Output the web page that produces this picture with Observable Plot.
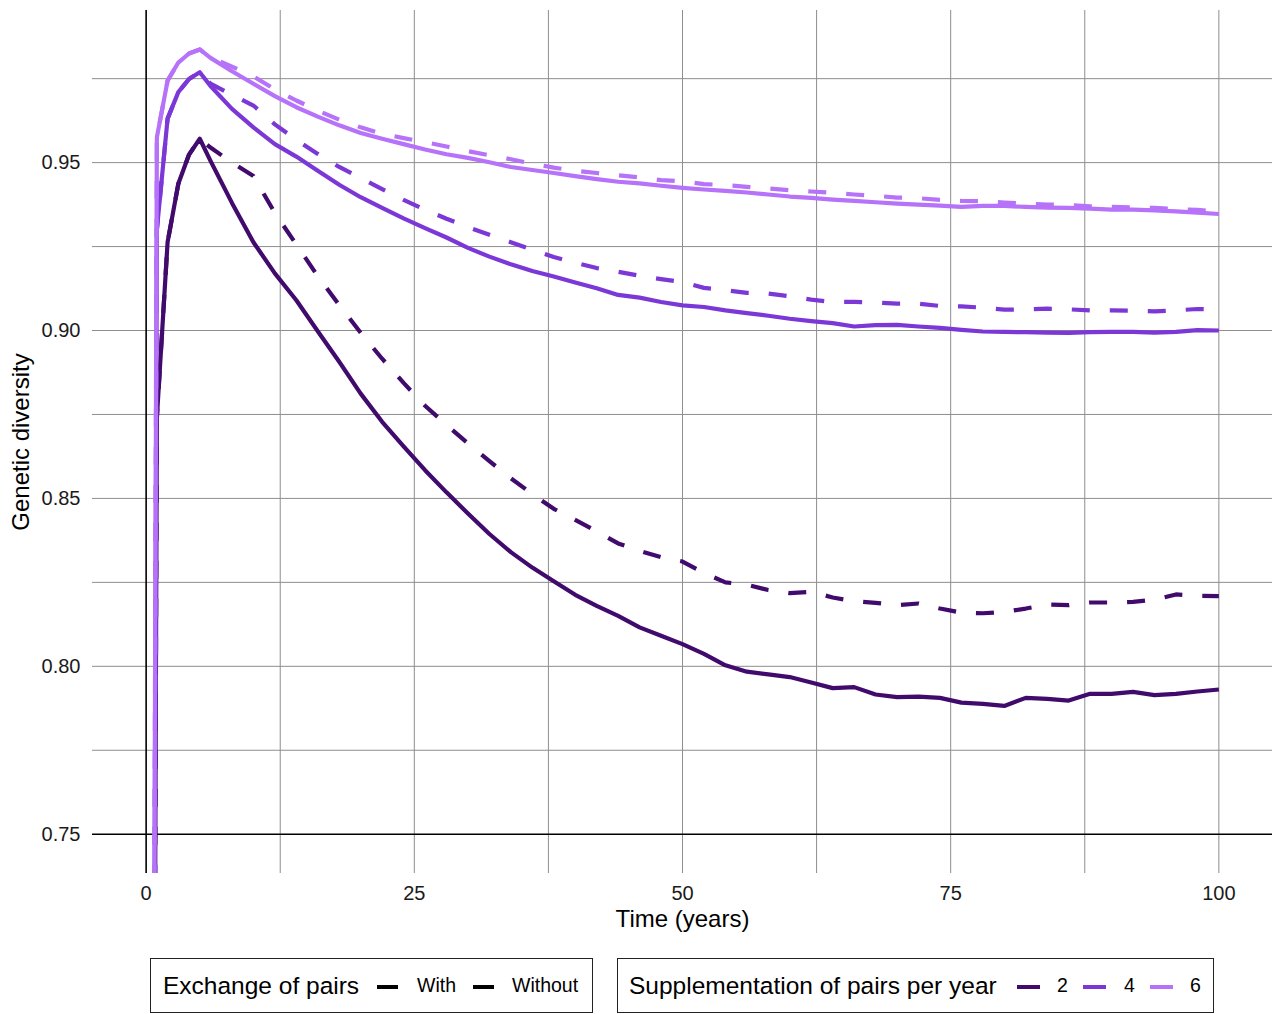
<!DOCTYPE html>
<html>
<head>
<meta charset="utf-8">
<script src="https://cdn.jsdelivr.net/npm/d3@7"></script>
<script src="https://cdn.jsdelivr.net/npm/@observablehq/plot@0.6"></script>
<style>
  body { margin: 0; background: #fff; font-family: "Liberation Sans", Arial, Helvetica, sans-serif; }
  #wrap { position: relative; width: 1275px; height: 1014px; overflow: hidden; background: #fff; }
  #chart { position: absolute; left: 0; top: 0; }
  .box { position: absolute; top: 958px; height: 55px; border: 1px solid #222; box-sizing: border-box; }
  .item { position: absolute; top: 0; bottom: 0; display: flex; align-items: center; white-space: nowrap; color: #000; }
  .ttl { font-size: 24.5px; }
  .lab { font-size: 19.5px; }
  .key { position: absolute; top: 50%; height: 4px; margin-top: -1px; }
</style>
</head>
<body>
<div id="wrap">
  <div id="chart"></div>
  <div id="legend"></div>
</div>
<script>
// ---- data ----
const years = [0,1,2,3,4,5,6,8,10,12,14,16,18,20,22,24,26,28,30,32,34,36,38,40,42,44,46,48,50,52,54,56,58,60,62,64,66,68,70,72,74,76,78,80,82,84,86,88,90,92,94,96,98,100];

const div2With = [0,0.874,0.9263,0.9437,0.9524,0.9571,0.9545,0.950,0.946,0.935,0.9256,0.9162,0.9076,0.8993,0.8916,0.8844,0.8776,0.8719,0.8664,0.8611,0.856,0.8513,0.8469,0.8436,0.8402,0.8366,0.8344,0.8325,0.8312,0.8278,0.825,0.8243,0.8227,0.8218,0.8222,0.8205,0.8194,0.8189,0.8182,0.8187,0.8172,0.816,0.8158,0.8162,0.8172,0.8184,0.8182,0.819,0.819,0.8192,0.8198,0.8214,0.821,0.8209];
const div2Without = [0,0.874,0.9263,0.9437,0.9524,0.9571,0.9505,0.938,0.9263,0.917,0.909,0.8998,0.8907,0.8812,0.8728,0.8655,0.8584,0.8518,0.8455,0.8394,0.834,0.8294,0.8253,0.8213,0.818,0.815,0.8116,0.8091,0.8066,0.8037,0.8003,0.7984,0.7976,0.7968,0.7952,0.7935,0.7938,0.7916,0.7908,0.791,0.7906,0.7892,0.7888,0.7882,0.7906,0.7903,0.7898,0.7918,0.7918,0.7924,0.7914,0.7918,0.7925,0.7931];
const div4With = [0,0.930,0.9631,0.9710,0.9749,0.9769,0.9735,0.9702,0.967,0.9614,0.9568,0.9526,0.9487,0.9454,0.9421,0.9389,0.936,0.9333,0.9308,0.9285,0.9263,0.9241,0.9219,0.9202,0.9186,0.9175,0.9163,0.9153,0.9144,0.9127,0.912,0.9112,0.911,0.9102,0.9092,0.9085,0.9085,0.9083,0.908,0.908,0.9073,0.9072,0.9068,0.9062,0.9063,0.9065,0.9063,0.906,0.906,0.9059,0.9057,0.906,0.9064,0.9063];
const div4Without = [0,0.930,0.9631,0.9710,0.9749,0.9769,0.9728,0.966,0.9605,0.9555,0.9518,0.9476,0.9434,0.9397,0.9365,0.9334,0.9305,0.9277,0.9246,0.922,0.9197,0.9177,0.9161,0.9143,0.9126,0.9106,0.9098,0.9085,0.9075,0.907,0.906,0.9052,0.9044,0.9035,0.9028,0.9022,0.9012,0.9016,0.9017,0.9012,0.9008,0.9002,0.8997,0.8996,0.8995,0.8994,0.8993,0.8995,0.8996,0.8996,0.8994,0.8996,0.9001,0.90];
const div6With = [0,0.9575,0.9744,0.9798,0.9825,0.9837,0.9813,0.9786,0.9757,0.9718,0.9685,0.9655,0.9628,0.9605,0.9586,0.9573,0.9561,0.9548,0.9534,0.9522,0.951,0.9497,0.9485,0.9476,0.9469,0.9462,0.9456,0.9448,0.9444,0.9436,0.9433,0.9428,0.9423,0.9418,0.9414,0.941,0.9405,0.9401,0.9396,0.9394,0.9389,0.9386,0.9385,0.9381,0.9378,0.9375,0.9374,0.937,0.9368,0.9367,0.9365,0.9362,0.9359,0.9355];
const div6Without = [0,0.9575,0.9744,0.9798,0.9825,0.9837,0.9812,0.9772,0.9735,0.9698,0.9665,0.9637,0.9611,0.9588,0.9571,0.9555,0.9539,0.9525,0.9514,0.9501,0.9487,0.9478,0.9469,0.946,0.9451,0.9443,0.9438,0.9431,0.9425,0.942,0.9416,0.9411,0.9405,0.9399,0.9395,0.939,0.9386,0.9382,0.9378,0.9375,0.9372,0.9368,0.9371,0.9371,0.9368,0.9366,0.9365,0.9363,0.936,0.936,0.9358,0.9355,0.9351,0.9347];

const levels = ["2", "4", "6"];
const levelColors = ["#400b6d", "#7b38d6", "#b672f8"];
const exchange = ["With", "Without"];
const xTicks = [0, 25, 50, 75, 100];
const xMinor = [12.5, 37.5, 62.5, 87.5];
const yTicks = [0.75, 0.80, 0.85, 0.90, 0.95];
const yMinor = [0.775, 0.825, 0.875, 0.925, 0.975];

const xLabel = "Time (years)";
const yLabel = "Genetic diversity";
const exchTitle = "Exchange of pairs";
const suppTitle = "Supplementation of pairs per year";

// ---- build table ----
const series = [
  {level: "2", exch: "With", values: div2With},
  {level: "2", exch: "Without", values: div2Without},
  {level: "4", exch: "With", values: div4With},
  {level: "4", exch: "Without", values: div4Without},
  {level: "6", exch: "With", values: div6With},
  {level: "6", exch: "Without", values: div6Without}
];
const rows = series.flatMap(s => years.map((t, i) => ({t, v: s.values[i], level: s.level, exch: s.exch})));

const gridColor = "#8e8e8e";
const chart = Plot.plot({
  width: 1275,
  height: 940,
  marginLeft: 92,
  marginRight: 3,
  marginTop: 10,
  marginBottom: 67,
  x: {domain: [-5, 105]},
  y: {domain: [0.7383, 0.9953]},
  color: {domain: levels, range: levelColors},
  style: {fontFamily: "'Liberation Sans', Arial, Helvetica, sans-serif", background: "white", overflow: "visible"},
  marks: [
    Plot.ruleX(xMinor, {stroke: gridColor, strokeWidth: 1}),
    Plot.ruleX(xTicks.filter(d => d !== 0), {stroke: gridColor, strokeWidth: 1}),
    Plot.ruleY(yMinor, {stroke: gridColor, strokeWidth: 1}),
    Plot.ruleY(yTicks.filter(d => d !== 0.75), {stroke: gridColor, strokeWidth: 1}),
    Plot.ruleX([0], {stroke: "#000", strokeWidth: 1.6}),
    Plot.ruleY([0.75], {stroke: "#000", strokeWidth: 1.6}),
    ...series.map(s => Plot.line(rows.filter(r => r.level === s.level && r.exch === s.exch), {
      x: "t", y: "v", stroke: "level",
      strokeWidth: 4.2,
      strokeDasharray: s.exch === "With" ? "18,20" : null,
      strokeLinejoin: "round",
      strokeLinecap: "butt",
      clip: true
    })),
    Plot.axisX(xTicks, {tickSize: 0, tickPadding: 12, fontSize: 20, fill: "#1a1a1a", label: null, tickFormat: d => String(d)}),
    Plot.axisY(yTicks, {tickSize: 0, tickPadding: 12, fontSize: 20, fill: "#1a1a1a", label: null, tickFormat: d3.format(".2f")}),
    Plot.text([xLabel], {text: d => d, frameAnchor: "bottom", lineAnchor: "top", dy: 36, fontSize: 24, fill: "#000"}),
    Plot.text([yLabel], {text: d => d, frameAnchor: "left", textAnchor: "middle", rotate: -90, dx: -71, fontSize: 24, fill: "#000"})
  ]
});
document.getElementById("chart").appendChild(chart);

// ---- legends (HTML text below the SVG) ----
const legend = document.getElementById("legend");
function box(left, width) {
  const b = document.createElement("div");
  b.className = "box";
  b.style.left = left + "px";
  b.style.width = width + "px";
  legend.appendChild(b);
  return b;
}
function text(parent, left, str, cls) {
  const d = document.createElement("div");
  d.className = "item " + cls;
  d.style.left = left + "px";
  d.textContent = str;
  parent.appendChild(d);
}
function key(parent, left, width, color) {
  const k = document.createElement("div");
  k.className = "key";
  k.style.left = left + "px";
  k.style.width = width + "px";
  k.style.background = color;
  parent.appendChild(k);
}
const b1 = box(150, 443);
text(b1, 12, exchTitle, "ttl");
const exKeyLeft = [226, 322], exLabLeft = [266, 361];
exchange.forEach((e, i) => { key(b1, exKeyLeft[i], 21, "#000"); text(b1, exLabLeft[i], e, "lab"); });

const b2 = box(617, 597);
text(b2, 11, suppTitle, "ttl");
const lvKeyLeft = [399, 465, 532], lvLabLeft = [439, 506, 572];
levels.forEach((l, i) => { key(b2, lvKeyLeft[i], 23, levelColors[i]); text(b2, lvLabLeft[i], l, "lab"); });
</script>
</body>
</html>
